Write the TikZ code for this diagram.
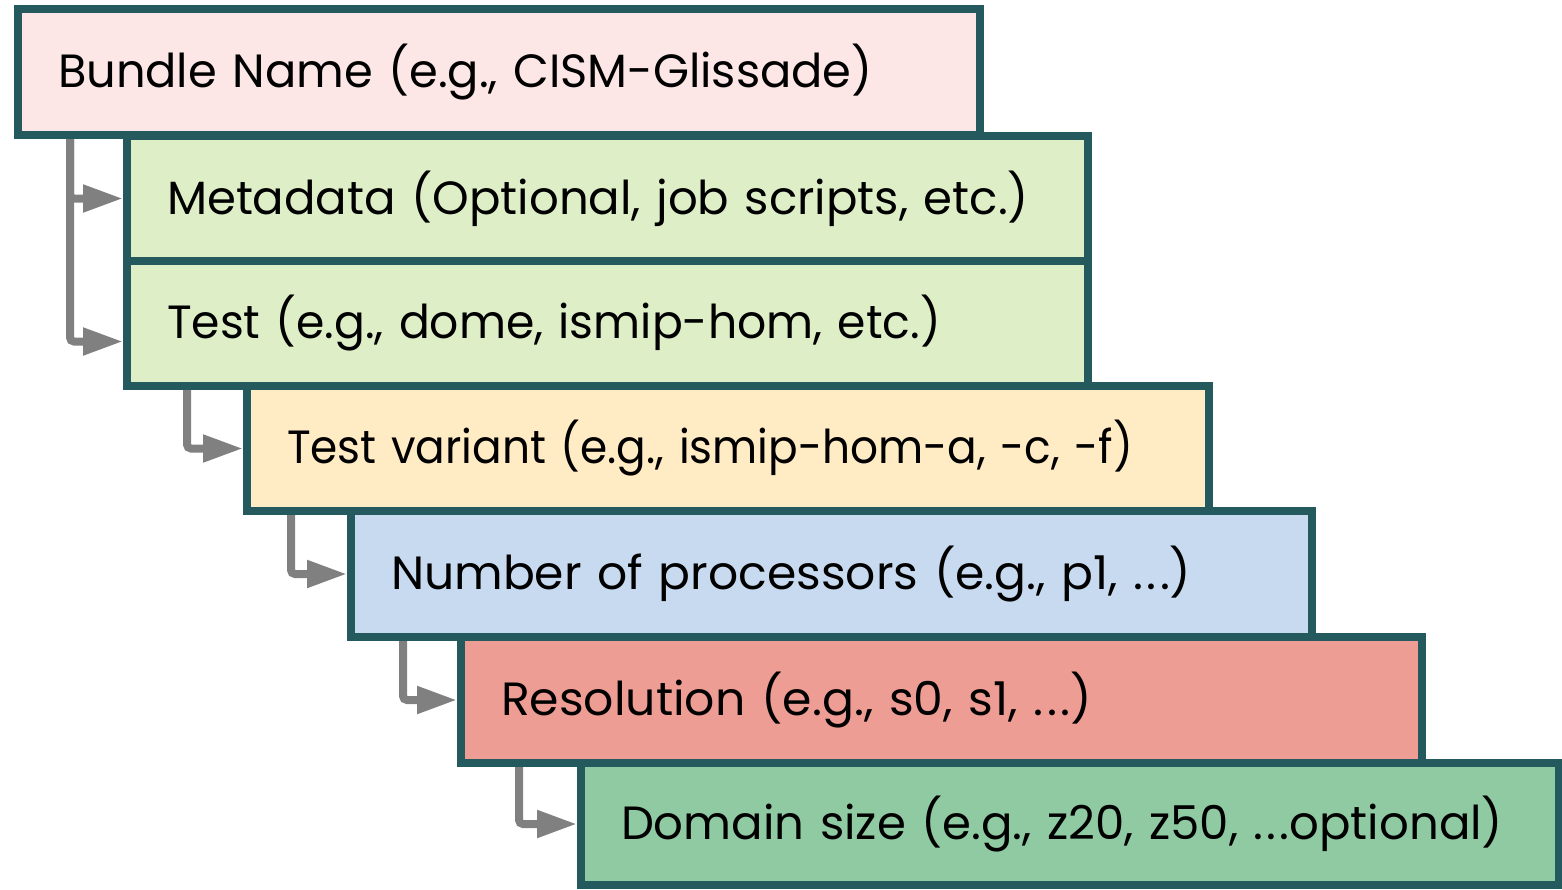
\documentclass[tikz,border=0pt]{standalone}
\usepackage{fontspec}
\usepackage{graphicx}
\setmainfont{Poppins}
\usetikzlibrary{arrows.meta,shadows}
\definecolor{bord}{HTML}{245A5E}
\definecolor{arrowgray}{HTML}{808080}
\definecolor{cpink}{HTML}{FDE6E6}
\definecolor{cgreenl}{HTML}{DEEFC8}
\definecolor{corange}{HTML}{FFEBC4}
\definecolor{cblue}{HTML}{C7DAF0}
\definecolor{csalmon}{HTML}{ED9D94}
\definecolor{cgreen}{HTML}{8FCAA2}
\newcommand{\mydots}{.\hspace{1.6pt}.\hspace{1.6pt}.}
\begin{document}
\begin{tikzpicture}[x=0.5pt,y=-0.5pt,
  box/.style={draw=bord, line width=4pt, rectangle, anchor=north west,
    outer sep=0pt, inner xsep=20pt, inner ysep=0pt, align=left, text=black,
    font=\fontsize{23.3}{27}\selectfont,
    drop shadow={opacity=0.18, shadow xshift=2pt, shadow yshift=-2pt}},
  conn/.style={draw=arrowgray, line width=4pt, rounded corners=2pt,
    shorten >=2pt, -{Triangle[length=20pt,width=13pt]}}]
\useasboundingbox (0,0) rectangle (1562,889);

\coordinate (c1) at (70,135);
\coordinate (c3) at (187,386);
\coordinate (c4) at (291,511);
\coordinate (c5) at (403,637);
\coordinate (c6) at (519,763);

\node[box, fill=cpink, text width=441pt, minimum height=63pt] (b1) at (18,9) {\scalebox{0.994}[1]{Bundle Name (e.g., CISM-Glissade)}};
\node[box, fill=cgreenl, text width=440.5pt, minimum height=62.5pt] (b2) at (127,136) {\scalebox{1.0}[1]{Metadata (Optional, job scripts, etc.)}};
\node[box, fill=cgreenl, text width=440.5pt, minimum height=62.5pt] (b3) at (127,261) {\scalebox{0.98}[1]{Test (e.g., dome, ismip-hom, etc.)}};
\node[box, fill=corange, text width=441pt, minimum height=62.5pt] (b4) at (247,386) {\scalebox{0.94}[1]{Test variant (e.g., ismip-hom-a, -c, -f)}};
\node[box, fill=cblue, text width=440.5pt, minimum height=63pt] (b5) at (351,511) {\scalebox{1.013}[1]{Number of processors (e.g., p1, \mydots)}};
\node[box, fill=csalmon, text width=440.5pt, minimum height=63pt] (b6) at (461,637) {\scalebox{1.016}[1]{Resolution (e.g., s0, s1, \mydots)}};
\node[box, fill=cgreen, text width=449pt, minimum height=61pt] (b7) at (581,763) {\scalebox{1.0}[1]{Domain size (e.g., z20, z50, \mydots optional)}};

\draw[conn] (c1) |- (b2.west);
\draw[conn] (c1) |- ([yshift=-9pt]b3.west);
\draw[conn] (c3) |- (b4.west);
\draw[conn] (c4) |- (b5.west);
\draw[conn] (c5) |- (b6.west);
\draw[conn] (c6) |- (b7.west);

\foreach \b in {b1,b3,b4,b5,b6}
  \draw[bord, line width=4pt, line cap=rect] (\b.south west) -- (\b.south east);
\end{tikzpicture}
\end{document}
